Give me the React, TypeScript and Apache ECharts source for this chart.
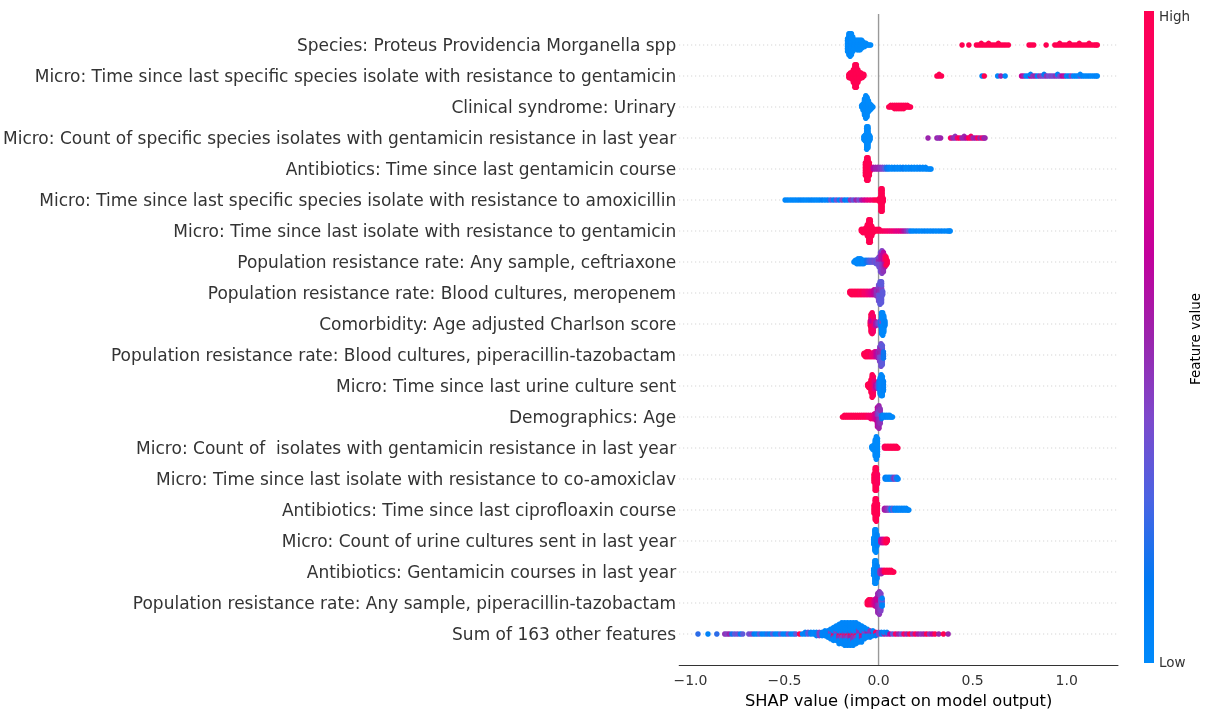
import React, { useEffect, useRef } from "react";
import * as echarts from "echarts";

// Feature names, top to bottom
const FEATURES: string[] = [
  "Species: Proteus Providencia Morganella spp",
  "Micro: Time since last specific species isolate with resistance to gentamicin",
  "Clinical syndrome: Urinary",
  "Micro: Count of specific species isolates with gentamicin resistance in last year",
  "Antibiotics: Time since last gentamicin course",
  "Micro: Time since last specific species isolate with resistance to amoxicillin",
  "Micro: Time since last isolate with resistance to gentamicin",
  "Population resistance rate: Any sample, ceftriaxone",
  "Population resistance rate: Blood cultures, meropenem",
  "Comorbidity: Age adjusted Charlson score",
  "Population resistance rate: Blood cultures, piperacillin-tazobactam",
  "Micro: Time since last urine culture sent",
  "Demographics: Age",
  "Micro: Count of  isolates with gentamicin resistance in last year",
  "Micro: Time since last isolate with resistance to co-amoxiclav",
  "Antibiotics: Time since last ciprofloaxin course",
  "Micro: Count of urine cultures sent in last year",
  "Antibiotics: Gentamicin courses in last year",
  "Population resistance rate: Any sample, piperacillin-tazobactam",
  "Sum of 163 other features",
];

// Each entry: [SHAP value, number of points at that value, feature value 0(low)..1(high)]
type E = [number, number, number];

const R01: E[] = [
  [-0.165, 9, 0], [-0.158, 14, 0], [-0.151, 15, 0.02], [-0.144, 14, 0], [-0.137, 10, 0], [-0.13, 6, 0],
  [-0.122, 6, 0], [-0.114, 7, 0], [-0.106, 7, 0], [-0.098, 7, 0], [-0.09, 6, 0], [-0.082, 4, 0],
  [-0.074, 3, 0], [-0.066, 2, 0], [-0.058, 1, 0], [-0.05, 1, 0], [-0.042, 1, 0],
  [0.444, 1, 1], [0.48, 1, 1], [0.52, 1, 1], [0.533, 1, 1], [0.546, 2, 1], [0.559, 1, 1], [0.572, 1, 1],
  [0.585, 2, 1], [0.598, 1, 1], [0.611, 1, 1], [0.624, 1, 1], [0.637, 2, 1], [0.65, 1, 1], [0.663, 1, 1],
  [0.676, 1, 1], [0.69, 1, 1], [0.8, 1, 1], [0.812, 1, 1], [0.825, 1, 1], [0.891, 1, 1], [0.937, 1, 1],
  [0.95, 1, 1], [0.963, 2, 1], [0.976, 1, 1], [0.989, 1, 1], [1.002, 1, 1], [1.015, 2, 1], [1.028, 1, 1],
  [1.041, 1, 1], [1.054, 1, 1], [1.067, 2, 1], [1.08, 1, 1], [1.093, 1, 1], [1.106, 1, 1], [1.119, 2, 1],
  [1.132, 1, 1], [1.145, 1, 1], [1.155, 1, 1], [1.163, 1, 1],
];

const R02: E[] = [
  [-0.158, 3, 1], [-0.15, 4, 1], [-0.142, 5, 1], [-0.134, 9, 1], [-0.126, 15, 1], [-0.118, 15, 1],
  [-0.11, 9, 1], [-0.102, 5, 1], [-0.094, 4, 1], [-0.086, 3, 1], [-0.078, 2, 1],
  [0.31, 1, 1], [0.322, 2, 1], [0.335, 1, 1], [0.55, 1, 0.02], [0.562, 1, 1], [0.633, 1, 0.02],
  [0.65, 1, 0.5], [0.673, 1, 0.02],
  [0.76, 1, 0.65], [0.772, 1, 0.5], [0.784, 1, 0.02], [0.796, 1, 0.05], [0.808, 1, 0.6], [0.808, 1, 0.05],
  [0.82, 1, 0.45], [0.832, 1, 0.5], [0.844, 1, 0.05], [0.856, 1, 0.45], [0.868, 1, 0.4], [0.88, 1, 0.35],
  [0.88, 1, 0.1], [0.892, 1, 0.45], [0.904, 1, 0.35], [0.916, 1, 0.4], [0.928, 1, 0.35], [0.94, 1, 0.45],
  [0.952, 1, 0.35], [0.952, 1, 0.05], [0.964, 1, 0.4], [0.976, 1, 0.6], [0.988, 1, 0.55], [1.0, 1, 0.05],
  [1.012, 1, 0.1], [1.024, 1, 0.4], [1.036, 1, 0.02], [1.048, 1, 0.05], [1.06, 1, 0.02], [1.072, 1, 0.3],
  [1.072, 1, 0.02], [1.084, 1, 0.05], [1.096, 1, 0.02], [1.108, 1, 0.02], [1.12, 1, 0.05], [1.132, 1, 0.02],
  [1.144, 1, 0.02], [1.155, 1, 0.05], [1.163, 1, 0.02],
];

const R03: E[] = [
  [-0.09, 2, 0], [-0.082, 5, 0], [-0.075, 11, 0], [-0.068, 15, 0], [-0.061, 13, 0], [-0.054, 8, 0],
  [-0.046, 5, 0], [-0.038, 3, 0], [-0.03, 1, 0],
  [0.054, 1, 1], [0.064, 2, 1], [0.074, 2, 1], [0.084, 3, 1], [0.094, 3, 1], [0.104, 3, 1], [0.114, 3, 1],
  [0.124, 3, 1], [0.134, 3, 1], [0.144, 2, 1], [0.154, 2, 1], [0.163, 1, 1], [0.17, 1, 1],
];

const R04: E[] = [
  [-0.078, 3, 0], [-0.07, 5, 0], [-0.063, 15, 0], [-0.056, 14, 0], [-0.05, 5, 0], [-0.045, 3, 0],
  [0.263, 1, 0.5], [0.31, 1, 0.5], [0.32, 1, 0.45], [0.33, 1, 0.5], [0.383, 1, 0.9], [0.395, 1, 0.5],
  [0.407, 2, 0.45], [0.419, 1, 0.85], [0.431, 1, 1], [0.443, 1, 0.5], [0.455, 2, 0.5], [0.467, 1, 0.6],
  [0.479, 1, 1], [0.491, 2, 0.9], [0.503, 1, 0.5], [0.515, 1, 0.55], [0.527, 1, 0.95], [0.539, 1, 0.5],
  [0.551, 1, 0.9], [0.56, 1, 0.5], [0.566, 1, 0.5],
];

const R05: E[] = [
  [-0.07, 9, 1], [-0.063, 15, 1], [-0.056, 15, 1], [-0.049, 9, 1], [-0.043, 3, 1],
  [-0.028, 2, 0.6], [-0.016, 2, 0.5], [-0.004, 2, 0.5], [0.008, 2, 0.45], [0.02, 2, 0.4], [0.032, 2, 0.3],
  [0.044, 2, 0.15], [0.056, 2, 0.05], [0.07, 2, 0.02], [0.085, 2, 0.05], [0.1, 2, 0.02], [0.115, 2, 0.02],
  [0.13, 2, 0.1], [0.145, 2, 0.02], [0.16, 2, 0.02], [0.175, 2, 0.05], [0.19, 2, 0.02], [0.205, 2, 0.02],
  [0.22, 2, 0.05], [0.235, 2, 0.02], [0.25, 2, 0.02], [0.262, 1, 0.02], [0.272, 1, 0.02], [0.279, 1, 0.02],
];

const R06: E[] = [
  [-0.497, 1, 0.02], [-0.483, 1, 0.02], [-0.469, 1, 0], [-0.455, 1, 0.02], [-0.441, 1, 0], [-0.427, 1, 0.02],
  [-0.413, 1, 0.05], [-0.399, 1, 0.02], [-0.385, 1, 0], [-0.371, 1, 0.02], [-0.357, 1, 0.05], [-0.343, 1, 0.02],
  [-0.329, 1, 0], [-0.315, 1, 0.02], [-0.3, 1, 0.1], [-0.285, 1, 0.02], [-0.27, 1, 0.05], [-0.255, 1, 0.3],
  [-0.24, 1, 0.05], [-0.225, 1, 0.35], [-0.21, 1, 0.05], [-0.195, 1, 0.4], [-0.18, 1, 0.1], [-0.165, 1, 0.05],
  [-0.15, 1, 0.45], [-0.135, 1, 0.3], [-0.12, 1, 0.5], [-0.105, 1, 0.35], [-0.09, 1, 0.55], [-0.075, 1, 0.7],
  [-0.06, 1, 0.8], [-0.045, 1, 0.85], [-0.03, 1, 0.9], [-0.018, 1, 1], [-0.006, 1, 1],
  [0.005, 3, 1], [0.013, 15, 1], [0.019, 15, 1], [0.025, 3, 1],
];

const R07: E[] = [
  [-0.092, 2, 1], [-0.084, 3, 1], [-0.076, 3, 1], [-0.068, 4, 1], [-0.06, 8, 1], [-0.052, 15, 1],
  [-0.044, 15, 1], [-0.036, 7, 1], [-0.028, 3, 1],
  [-0.02, 2, 1], [-0.008, 2, 1], [0.004, 2, 1], [0.016, 1, 0.95], [0.028, 1, 0.95], [0.04, 1, 0.9],
  [0.052, 1, 0.9], [0.064, 1, 0.85], [0.076, 1, 0.85], [0.088, 1, 0.8], [0.1, 1, 0.75], [0.112, 1, 0.8],
  [0.124, 1, 0.7], [0.136, 1, 0.55], [0.148, 1, 0.45], [0.16, 1, 0.3], [0.172, 1, 0.05], [0.185, 1, 0.02],
  [0.2, 1, 0.05], [0.215, 1, 0.02], [0.23, 1, 0.02], [0.245, 1, 0.05], [0.26, 1, 0.02], [0.275, 1, 0.02],
  [0.29, 1, 0.05], [0.305, 1, 0.02], [0.32, 1, 0.02], [0.335, 1, 0.05], [0.35, 1, 0.02], [0.365, 1, 0.02],
  [0.375, 1, 0.02], [0.381, 1, 0.02],
];

const R08: E[] = [
  [-0.131, 1, 0.05], [-0.124, 2, 0.02], [-0.117, 3, 0.02], [-0.11, 4, 0.02], [-0.102, 4, 0.02], [-0.094, 4, 0.02],
  [-0.086, 3, 0.05], [-0.078, 3, 0.02], [-0.07, 2, 0.05], [-0.062, 2, 0.15], [-0.054, 2, 0.2], [-0.046, 2, 0.25],
  [-0.038, 2, 0.3], [-0.03, 2, 0.3], [-0.022, 2, 0.35], [-0.014, 3, 0.3], [-0.006, 4, 0.35],
  [0.002, 5, 0.35], [0.002, 2, 0.5], [0.01, 8, 0.35], [0.01, 5, 0.5], [0.018, 9, 0.4], [0.018, 6, 0.55],
  [0.026, 7, 0.45], [0.026, 6, 0.6], [0.034, 4, 0.55], [0.034, 4, 0.8], [0.04, 2, 0.7], [0.04, 4, 1],
  [0.046, 3, 1],
];

const R09: E[] = [
  [-0.153, 2, 1], [-0.145, 3, 1], [-0.137, 3, 1], [-0.129, 3, 1], [-0.121, 3, 1], [-0.113, 3, 1],
  [-0.105, 3, 1], [-0.097, 3, 0.95], [-0.089, 3, 1], [-0.081, 3, 0.95], [-0.073, 3, 0.9], [-0.065, 3, 0.9],
  [-0.057, 3, 0.85], [-0.049, 3, 0.8], [-0.041, 3, 0.75], [-0.033, 3, 0.7], [-0.025, 4, 0.65],
  [-0.017, 4, 0.55], [-0.009, 5, 0.45], [0.0, 8, 0.35], [0.0, 3, 0.5], [0.008, 11, 0.3], [0.008, 4, 0.45],
  [0.016, 10, 0.3], [0.016, 4, 0.4], [0.022, 3, 0.3],
];

const R10: E[] = [
  [-0.044, 4, 1], [-0.04, 9, 1], [-0.04, 3, 0.7], [-0.034, 10, 0.95], [-0.034, 4, 0.6], [-0.028, 8, 0.9],
  [-0.028, 3, 0.7], [-0.022, 4, 0.8], [-0.014, 3, 0.55], [-0.006, 2, 0.45], [0.002, 2, 0.35], [0.01, 4, 0.2],
  [0.016, 11, 0.05], [0.016, 3, 0.3], [0.022, 13, 0.02], [0.022, 2, 0.35], [0.028, 11, 0.02], [0.034, 4, 0.05],
];

const R11: E[] = [
  [-0.078, 2, 1], [-0.071, 3, 1], [-0.064, 4, 1], [-0.057, 4, 1], [-0.05, 4, 0.95], [-0.043, 3, 1],
  [-0.036, 3, 0.9], [-0.029, 3, 0.85], [-0.022, 4, 0.8], [-0.015, 4, 0.7], [-0.008, 4, 0.6], [-0.001, 5, 0.5],
  [0.006, 7, 0.4], [0.006, 3, 0.55], [0.013, 10, 0.35], [0.013, 5, 0.5], [0.02, 9, 0.3], [0.02, 4, 0.45],
  [0.026, 5, 0.15],
];

const R12: E[] = [
  [-0.058, 2, 1], [-0.052, 3, 1], [-0.046, 4, 1], [-0.04, 9, 1], [-0.034, 15, 1], [-0.028, 13, 0.95],
  [-0.022, 6, 0.8], [-0.014, 3, 0.6], [-0.006, 3, 0.45], [0.002, 6, 0.2], [0.008, 11, 0.05], [0.014, 14, 0.02],
  [0.02, 13, 0.02], [0.026, 7, 0.05],
];

const R13: E[] = [
  [-0.192, 1, 1], [-0.182, 2, 1], [-0.172, 2, 1], [-0.162, 2, 1], [-0.152, 2, 1], [-0.142, 2, 1],
  [-0.132, 2, 1], [-0.122, 2, 1], [-0.112, 2, 1], [-0.102, 2, 1], [-0.092, 2, 1], [-0.082, 2, 0.95],
  [-0.072, 2, 1], [-0.062, 2, 0.95], [-0.052, 2, 0.9], [-0.042, 3, 0.9], [-0.032, 3, 0.85], [-0.022, 4, 0.75],
  [-0.014, 5, 0.7], [-0.006, 9, 0.6], [-0.006, 4, 0.45], [0.002, 10, 0.5], [0.002, 5, 0.4], [0.009, 7, 0.45],
  [0.009, 3, 0.3], [0.016, 3, 0.15], [0.024, 2, 0.02], [0.033, 2, 0.02], [0.042, 2, 0.05], [0.051, 2, 0.02],
  [0.06, 2, 0.02], [0.068, 1, 0.02], [0.074, 1, 0.02],
];

const R14: E[] = [
  [-0.036, 2, 0], [-0.03, 3, 0], [-0.024, 4, 0], [-0.018, 11, 0], [-0.012, 15, 0], [-0.006, 12, 0],
  [0.031, 2, 0.9], [0.039, 2, 1], [0.047, 2, 1], [0.055, 2, 1], [0.063, 2, 1], [0.071, 2, 1], [0.079, 2, 1],
  [0.087, 2, 1], [0.095, 2, 1], [0.103, 1, 1],
];

const R15: E[] = [
  [-0.024, 6, 1], [-0.018, 15, 1], [-0.012, 15, 1], [-0.006, 7, 0.95],
  [0.035, 2, 0.1], [0.043, 2, 0.05], [0.051, 2, 0.02], [0.059, 2, 0.05], [0.067, 2, 0.02], [0.075, 2, 0.2],
  [0.083, 2, 0.45], [0.091, 2, 0.3], [0.098, 2, 0.05], [0.104, 1, 0.05],
];

const R16: E[] = [
  [-0.024, 6, 1], [-0.018, 14, 1], [-0.012, 15, 1], [-0.006, 8, 1],
  [0.031, 2, 0.55], [0.04, 2, 0.5], [0.049, 2, 0.45], [0.058, 2, 0.35], [0.067, 2, 0.05], [0.076, 2, 0.3],
  [0.085, 2, 0.05], [0.094, 2, 0.02], [0.103, 2, 0.05], [0.112, 2, 0.02], [0.121, 2, 0.02], [0.13, 2, 0.05],
  [0.139, 2, 0.02], [0.148, 2, 0.02], [0.156, 1, 0.02], [0.161, 1, 0.02],
];

const R17: E[] = [
  [-0.026, 5, 0], [-0.02, 14, 0], [-0.014, 15, 0], [-0.008, 8, 0.05],
  [0.012, 3, 0.55], [0.02, 3, 0.6], [0.028, 3, 0.75], [0.036, 3, 0.9], [0.042, 3, 1], [0.047, 2, 1],
];

const R18: E[] = [
  [-0.026, 5, 0], [-0.02, 15, 0], [-0.014, 15, 0], [-0.008, 9, 0.05],
  [0.008, 3, 0.45], [0.016, 3, 0.5], [0.024, 2, 0.7], [0.032, 2, 1], [0.041, 2, 1], [0.05, 2, 1],
  [0.059, 2, 1], [0.068, 2, 1], [0.076, 1, 1], [0.081, 1, 1],
];

const R19: E[] = [
  [-0.06, 3, 1], [-0.053, 4, 1], [-0.046, 4, 1], [-0.039, 4, 0.95], [-0.032, 3, 0.9], [-0.025, 4, 0.8],
  [-0.018, 5, 0.7], [-0.011, 6, 0.6], [-0.004, 9, 0.5], [-0.004, 4, 0.65], [0.004, 11, 0.45], [0.004, 4, 0.6],
  [0.012, 9, 0.4], [0.012, 3, 0.3], [0.019, 4, 0.05], [0.019, 2, 0.3],
];

const R20: E[] = [
  [-0.96, 1, 0.2], [-0.907, 1, 0.05], [-0.86, 1, 0.2], [-0.818, 1, 0.45], [-0.806, 1, 0.4], [-0.794, 1, 0.5],
  [-0.78, 1, 0.15], [-0.765, 1, 0.3], [-0.75, 1, 0.35], [-0.735, 1, 0.1], [-0.722, 1, 0.3], [-0.69, 1, 0.35],
  [-0.676, 1, 0.4], [-0.662, 1, 0.1], [-0.648, 1, 0.05], [-0.634, 1, 0.3], [-0.62, 1, 0.05], [-0.606, 1, 0.02],
  [-0.592, 1, 0.2], [-0.578, 1, 0.05], [-0.564, 1, 0.3], [-0.55, 1, 0.05], [-0.536, 1, 0.02], [-0.522, 1, 0.3],
  [-0.508, 1, 0.05], [-0.494, 1, 0.05], [-0.48, 1, 0.35], [-0.466, 1, 0.05], [-0.452, 1, 0.02], [-0.44, 1, 0.3],
  [-0.42, 1, 1], [-0.405, 1, 0.05], [-0.39, 2, 0.05], [-0.375, 2, 0.3], [-0.36, 2, 0.05], [-0.345, 2, 0.02],
  [-0.33, 3, 0.05], [-0.315, 3, 0.4], [-0.3, 3, 0.05], [-0.285, 4, 0.05], [-0.27, 5, 0.05],
  [-0.255, 5, 0.03], [-0.255, 2, 0.4], [-0.24, 6, 0.03], [-0.24, 2, 0.45], [-0.24, 1, 1],
  [-0.225, 8, 0.03], [-0.225, 2, 0.4], [-0.21, 9, 0.03], [-0.21, 3, 0.45], [-0.21, 1, 0.95],
  [-0.195, 10, 0.03], [-0.195, 3, 0.4], [-0.195, 1, 1], [-0.18, 11, 0.03], [-0.18, 3, 0.45], [-0.18, 1, 0.9],
  [-0.165, 11, 0.03], [-0.165, 3, 0.4], [-0.165, 1, 1], [-0.15, 11, 0.03], [-0.15, 3, 0.5], [-0.15, 1, 1],
  [-0.135, 10, 0.03], [-0.135, 4, 0.45], [-0.135, 1, 0.9], [-0.12, 10, 0.03], [-0.12, 3, 0.4], [-0.12, 1, 1],
  [-0.105, 9, 0.03], [-0.105, 3, 0.45], [-0.09, 7, 0.03], [-0.09, 3, 0.5], [-0.09, 1, 1],
  [-0.075, 6, 0.03], [-0.075, 2, 0.4], [-0.06, 4, 0.03], [-0.06, 2, 0.5], [-0.045, 3, 0.05], [-0.045, 2, 0.45],
  [-0.03, 3, 0.05], [-0.03, 1, 0.6], [-0.015, 2, 0.1], [-0.015, 1, 0.9],
  [0.0, 2, 0.4], [0.015, 2, 0.1], [0.03, 1, 0.5], [0.03, 1, 0.05], [0.045, 1, 0.45], [0.045, 1, 0.1],
  [0.06, 1, 0.6], [0.075, 1, 0.3], [0.09, 1, 0.9], [0.105, 1, 0.5], [0.12, 1, 0.35], [0.135, 1, 0.9],
  [0.15, 1, 0.5], [0.165, 1, 1], [0.18, 1, 0.45], [0.195, 1, 0.95], [0.21, 1, 0.55], [0.225, 1, 0.45],
  [0.24, 1, 0.5], [0.255, 1, 1], [0.27, 1, 0.45], [0.285, 1, 0.6], [0.3, 1, 1], [0.32, 1, 0.5],
  [0.345, 1, 1], [0.37, 1, 0.5],
];

const ROWS: E[][] = [R01, R02, R03, R04, R05, R06, R07, R08, R09, R10, R11, R12, R13, R14, R15, R16, R17, R18, R19, R20];

const X_TICKS = [-1, -0.5, 0, 0.5, 1];
const X_MIN = -1.06;
const X_MAX = 1.273;
const COLOR_STOPS = ["#008afb", "#0079f3", "#4a63e3", "#7d49cc", "#9b24ad", "#c2009c", "#e00086", "#f5006c", "#ff0051"];
const FONT = "DejaVu Sans";
const STEP = 0.052; // vertical swarm spacing in row units

// beeswarm layout: stack points of the same SHAP value around the row centre
function swarm(rows: E[][]): number[][] {
  const out: number[][] = [];
  rows.forEach((row, r) => {
    const base = rows.length - 1 - r;
    const bins = new Map<string, { x: number; list: [number, number][] }>();
    row.forEach(([x, n, c]) => {
      const k = x.toFixed(4);
      if (!bins.has(k)) bins.set(k, { x, list: [] });
      bins.get(k)!.list.push([n, c]);
    });
    bins.forEach(({ x, list }) => {
      const left = list.map((e) => e[0]);
      const seq: number[] = [];
      let any = true;
      while (any) {
        any = false;
        list.forEach((e, i) => {
          if (left[i] > 0) {
            seq.push(e[1]);
            left[i]--;
            any = true;
          }
        });
      }
      seq.forEach((c, k) => {
        const off = k === 0 ? 0 : (k % 2 ? 1 : -1) * Math.ceil(k / 2);
        out.push([x, base + off * STEP, c]);
      });
    });
  });
  return out;
}

export default function App() {
  const ref = useRef<HTMLDivElement>(null);
  useEffect(() => {
    const chart = echarts.init(ref.current!, null, { renderer: "svg" });
    const n = FEATURES.length;
    const points = swarm(ROWS);
    const gridSeries = FEATURES.map((_, i) => ({
      type: "line",
      data: [[X_MIN, i], [X_MAX, i]],
      symbol: "none",
      silent: true,
      z: 1,
      lineStyle: { color: "#cccccc", width: 1, type: [1, 3] },
    }));
    const option: any = {
      animation: false,
      grid: { left: 676, right: 92, top: 14, bottom: 48 },
      xAxis: {
        type: "value",
        min: X_MIN,
        max: X_MAX,
        axisLine: { show: true, onZero: false, lineStyle: { color: "#333333", width: 1 } },
        axisTick: { show: false },
        axisLabel: {
          customValues: X_TICKS,
          formatter: (v: number) => (v < 0 ? "\u2212" : "") + Math.abs(v).toFixed(1),
          fontFamily: FONT,
          fontSize: 14,
          color: "#333333",
          margin: 8,
        },
        splitLine: { show: false },
        name: "SHAP value (impact on model output)",
        nameLocation: "middle",
        nameGap: 27,
        nameTextStyle: { fontFamily: FONT, fontSize: 16.3, color: "#000000" },
      },
      yAxis: {
        type: "value",
        min: -1,
        max: n,
        axisLine: { show: false },
        axisTick: { show: false },
        splitLine: { show: false },
        axisLabel: {
          customValues: FEATURES.map((_, i) => i),
          formatter: (v: number) => FEATURES[n - 1 - Math.round(v)] ?? "",
          fontFamily: FONT,
          fontSize: 17,
          color: "#333333",
          margin: 3,
        },
      },
      visualMap: {
        type: "continuous",
        show: false,
        seriesIndex: 0,
        dimension: 2,
        min: 0,
        max: 1,
        inRange: { color: COLOR_STOPS },
      },
      series: [
        {
          type: "scatter",
          data: points,
          symbolSize: 5.5,
          silent: true,
          z: 3,
          itemStyle: { opacity: 1 },
        },
        ...gridSeries,
        {
          type: "line",
          data: [[0, -1], [0, n]],
          symbol: "none",
          silent: true,
          z: 2,
          lineStyle: { color: "#999999", width: 1.4 },
        },
      ],
      graphic: [
        {
          type: "rect",
          silent: true,
          shape: { x: 1144, y: 11, width: 10, height: 652 },
          style: {
            fill: new echarts.graphic.LinearGradient(
              0, 0, 0, 1,
              COLOR_STOPS.slice().reverse().map((c, i) => ({ offset: i / (COLOR_STOPS.length - 1), color: c }))
            ),
          },
        },
        {
          type: "text",
          x: 1159,
          y: 16,
          style: { text: "High", fontFamily: FONT, fontSize: 13.5, fill: "#333333", verticalAlign: "middle", align: "left" },
        },
        {
          type: "text",
          x: 1159,
          y: 662,
          style: { text: "Low", fontFamily: FONT, fontSize: 13.5, fill: "#333333", verticalAlign: "middle", align: "left" },
        },
        {
          type: "text",
          x: 1195,
          y: 339,
          rotation: Math.PI / 2,
          style: { text: "Feature value", fontFamily: FONT, fontSize: 13.5, fill: "#000000", verticalAlign: "middle", align: "center" },
        },
      ],
    };
    chart.setOption(option);
    return () => chart.dispose();
  }, []);
  return <div ref={ref} style={{ position: "fixed", left: 0, top: 0, width: 1210, height: 713 }} />;
}
